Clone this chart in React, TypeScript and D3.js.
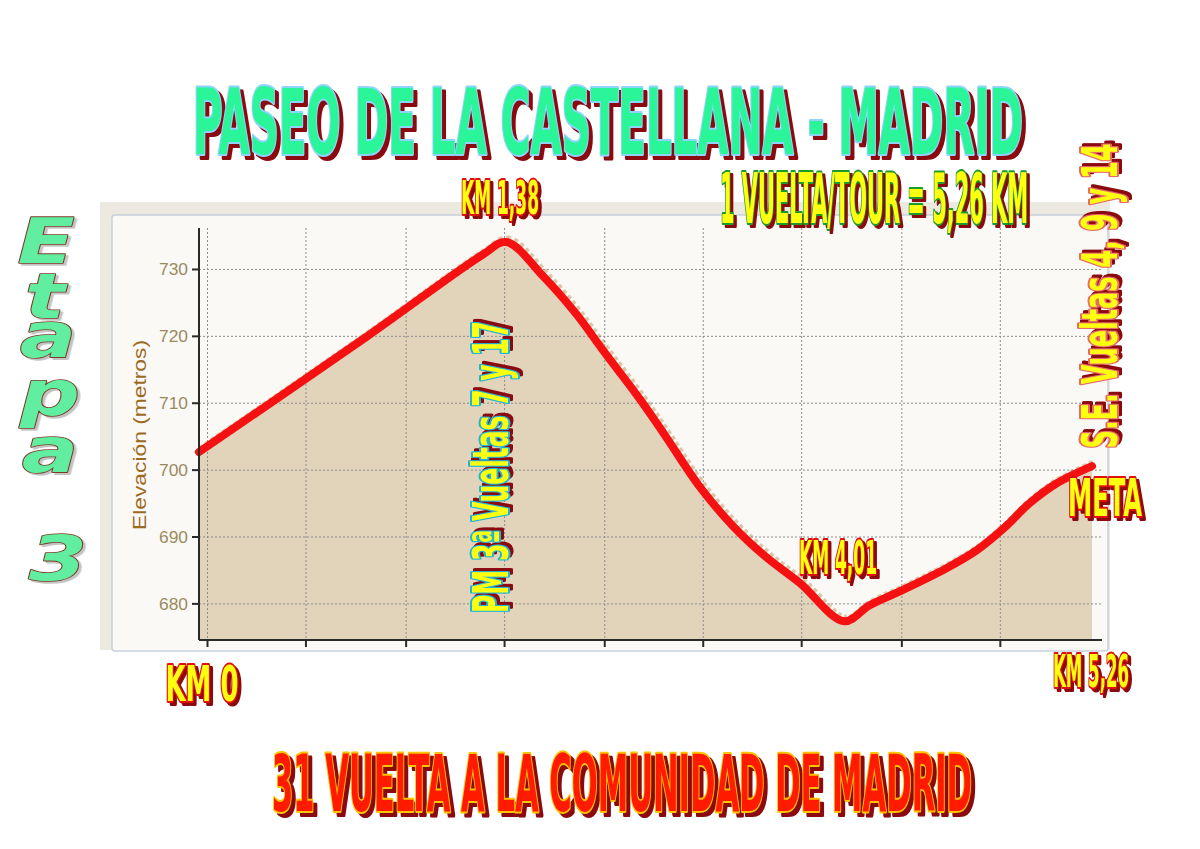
import React from "react";
import * as d3 from "d3";

// ---- data ----
const distanceKm = [0, 0.99, 1.67, 1.81, 2.03, 2.22, 2.38, 2.6, 2.75, 2.95, 3.15, 3.34, 3.54, 3.8, 3.95, 4.13, 4.4, 4.58, 4.74, 4.89, 5.05, 5.26];
const elevationM = [702.7, 720.0, 732.2, 734.1, 728.9, 723.4, 717.9, 710.5, 705.0, 697.5, 691.5, 687.0, 683.1, 677.4, 679.8, 681.9, 685.3, 688.0, 691.3, 695.0, 698.0, 700.6];
const yTickValues = [680, 690, 700, 710, 720, 730];
const xTickValues = [0.05, 0.63, 1.22, 1.8, 2.39, 2.97, 3.55, 4.14, 4.72];
const yAxisTitle = "Elevación (metros)";
const mainTitle = "PASEO DE LA CASTELLANA - MADRID";
const subTitle = "1 VUELTA/TOUR = 5,26 KM";
const bottomTitle = "31 VUELTA A LA COMUNIDAD DE MADRID";
const etapaLetters = ["E", "t", "a", "p", "a", "3"];

const W = 1200;
const H = 849;
const HEAVY = "'Liberation Sans Narrow', 'DejaVu Sans Condensed', 'Roboto Condensed', 'Liberation Sans', Arial, sans-serif";

type OTProps = {
  x: number; y: number; text: string; size: number; len: number;
  fill: string; stroke: string; shadow: string; sw?: number; rotate?: number; dx?: number; dy?: number;
  anchor?: string; family?: string; italic?: boolean;
};

function OutlinedText({ x, y, text, size, len, fill, stroke, shadow, sw = 4, rotate = 0, dx = 4, dy = 4, anchor = "middle", family = HEAVY, italic = false }: OTProps) {
  return (
    <g transform={`translate(${x},${y}) rotate(${rotate})`}>
      <text
        fontFamily={family}
        fontWeight={700}
        fontStyle={italic ? "italic" : "normal"}
        fontSize={size}
        textAnchor={anchor as any}
        textLength={len}
        lengthAdjust="spacingAndGlyphs"
        fill={fill}
        stroke={stroke}
        strokeWidth={sw}
        strokeLinejoin="round"
        paintOrder="stroke"
        style={{ filter: `drop-shadow(${dx}px ${dy}px 0px ${shadow})` }}
      >{text}</text>
    </g>
  );
}

export default function App() {
  const x = d3.scaleLinear().domain([0, 5.26]).range([199, 1092]);
  const y = d3.scaleLinear().domain([674.6, 736.2]).range([640, 228]);
  const pts: [number, number][] = distanceKm.map((d, i) => [d, elevationM[i]]);
  const curve = d3.curveCatmullRom.alpha(0.5);
  const line = d3.line<[number, number]>().x(d => x(d[0])).y(d => y(d[1])).curve(curve);
  const area = d3.area<[number, number]>().x(d => x(d[0])).y0(y(674.6)).y1(d => y(d[1])).curve(curve);

  const axisRight = 1102;
  const plotTop = y(736.2);
  const plotBottom = y(674.6);

  const etapaScale = 1.35;
  const etapaPos = [
    { cx: 46, base: 263 },
    { cx: 45, base: 318 },
    { cx: 48, base: 357 },
    { cx: 50, base: 415 },
    { cx: 50, base: 472 },
    { cx: 58, base: 580 },
  ];

  return (
    <svg width={W} height={H} style={{ position: "absolute", left: 0, top: 0, background: "#ffffff" }}>
      <rect x={0} y={0} width={W} height={H} fill="#ffffff" />
      {/* chart frame */}
      <rect x={100} y={202} width={1010} height={448} fill="#ece9e0" />
      <rect x={112} y={215} width={996} height={436} fill="#fbf9f6" stroke="#c8d1dc" strokeWidth={1.5} rx={3} />

      {/* area */}
      <path d={area(pts) || ""} fill="#e2d3bb" />
      <path d={line(pts) || ""} fill="none" stroke="#cdb088" strokeWidth={9} transform="translate(2,-2)" strokeLinejoin="round" opacity={0.7} strokeDasharray="4,3" />

      {/* grid */}
      {yTickValues.map(v => (
        <line key={"gy" + v} x1={199} x2={axisRight} y1={y(v)} y2={y(v)} stroke="#8d8d8d" strokeWidth={1} strokeDasharray="2,2" />
      ))}
      {xTickValues.map(v => (
        <line key={"gx" + v} x1={x(v)} x2={x(v)} y1={plotTop} y2={plotBottom} stroke="#8d8d8d" strokeWidth={1} strokeDasharray="2,2" />
      ))}

      {/* red profile line */}
      <path d={line(pts) || ""} fill="none" stroke="#f51111" strokeWidth={8} strokeLinejoin="round" strokeLinecap="round" />

      {/* axes */}
      <line x1={199} x2={199} y1={plotTop} y2={plotBottom} stroke="#2a2a2a" strokeWidth={2} />
      <line x1={199} x2={axisRight} y1={plotBottom} y2={plotBottom} stroke="#2a2a2a" strokeWidth={2} />
      {yTickValues.map(v => (
        <g key={"ty" + v}>
          <line x1={192} x2={199} y1={y(v)} y2={y(v)} stroke="#2a2a2a" strokeWidth={2} />
          <text x={188} y={y(v) + 6} textAnchor="end" fontFamily="'Liberation Sans', Arial, sans-serif" fontSize={17} fill="#9a8a60" textLength={29} lengthAdjust="spacingAndGlyphs">{v}</text>
        </g>
      ))}
      {xTickValues.map(v => (
        <line key={"tx" + v} x1={x(v)} x2={x(v)} y1={plotBottom} y2={plotBottom + 7} stroke="#2a2a2a" strokeWidth={2} />
      ))}
      <g transform="translate(146,435) rotate(-90)">
        <text textAnchor="middle" fontFamily="'Liberation Sans', Arial, sans-serif" fontSize={19} fill="#9c6a1f" textLength={190} lengthAdjust="spacingAndGlyphs">{yAxisTitle}</text>
      </g>

      {/* Etapa 3 (one text, stacked letters) */}
      <g transform={`scale(${etapaScale},1)`}>
        <text fontFamily="'DejaVu Sans', sans-serif" fontWeight={700} fontStyle="italic" fontSize={62} textAnchor="middle"
          fill="#62eea0" stroke="#7a3a26" strokeWidth={1.6} strokeLinejoin="round" paintOrder="stroke"
          style={{ filter: "drop-shadow(2px 2px 0px #c4c4c4)" }}>
          {etapaLetters.map((l, i) => (
            <tspan key={"e" + i} x={etapaPos[i].cx / etapaScale} y={etapaPos[i].base}>{l}</tspan>
          ))}
        </text>
      </g>

      {/* titles */}
      <OutlinedText x={608} y={154} text={mainTitle} size={90} len={830} fill="#2af598" stroke="#8fd4ff" shadow="#8a0a10" sw={4} dx={4} dy={4} />
      <OutlinedText x={874} y={223} text={subTitle} size={70} len={308} fill="#ffff10" stroke="#1f9a2a" shadow="#8a0a10" sw={4} dx={3} dy={3} />
      <OutlinedText x={500} y={214} text="KM 1,38" size={46} len={78} fill="#ffff10" stroke="#e01010" shadow="#8a0a10" sw={4} dx={3} dy={3} />
      <OutlinedText x={1105} y={516} text="META" size={52} len={74} fill="#ffff10" stroke="#e01010" shadow="#8a0a10" sw={4} dx={3} dy={3} />
      <OutlinedText x={838} y={574} text="KM 4,01" size={46} len={78} fill="#ffff10" stroke="#e01010" shadow="#8a0a10" sw={4} dx={3} dy={3} />
      <OutlinedText x={1091} y={687} text="KM 5,26" size={44} len={76} fill="#ffff10" stroke="#e01010" shadow="#8a0a10" sw={4} dx={3} dy={3} />
      <OutlinedText x={202} y={701} text="KM 0" size={50} len={73} fill="#ffff10" stroke="#e01010" shadow="#8a0a10" sw={4} dx={3} dy={3} />
      <OutlinedText x={508} y={467} text="PM 3ª Vueltas 7 y 17" size={49} len={292} rotate={-90} fill="#ffff10" stroke="#1fb4d8" shadow="#8a0a10" sw={4} dx={3} dy={3} />
      <OutlinedText x={1117} y={296} text="S.E. Vueltas 4, 9 y 14" size={50} len={305} rotate={-90} fill="#ffff10" stroke="#e86a6a" shadow="#8a0a10" sw={4} dx={3} dy={3} />
      <OutlinedText x={622} y={811} text={bottomTitle} size={78} len={700} fill="#ff1a00" stroke="#ffc400" shadow="#8a0a10" sw={4} dx={4} dy={4} />
    </svg>
  );
}
